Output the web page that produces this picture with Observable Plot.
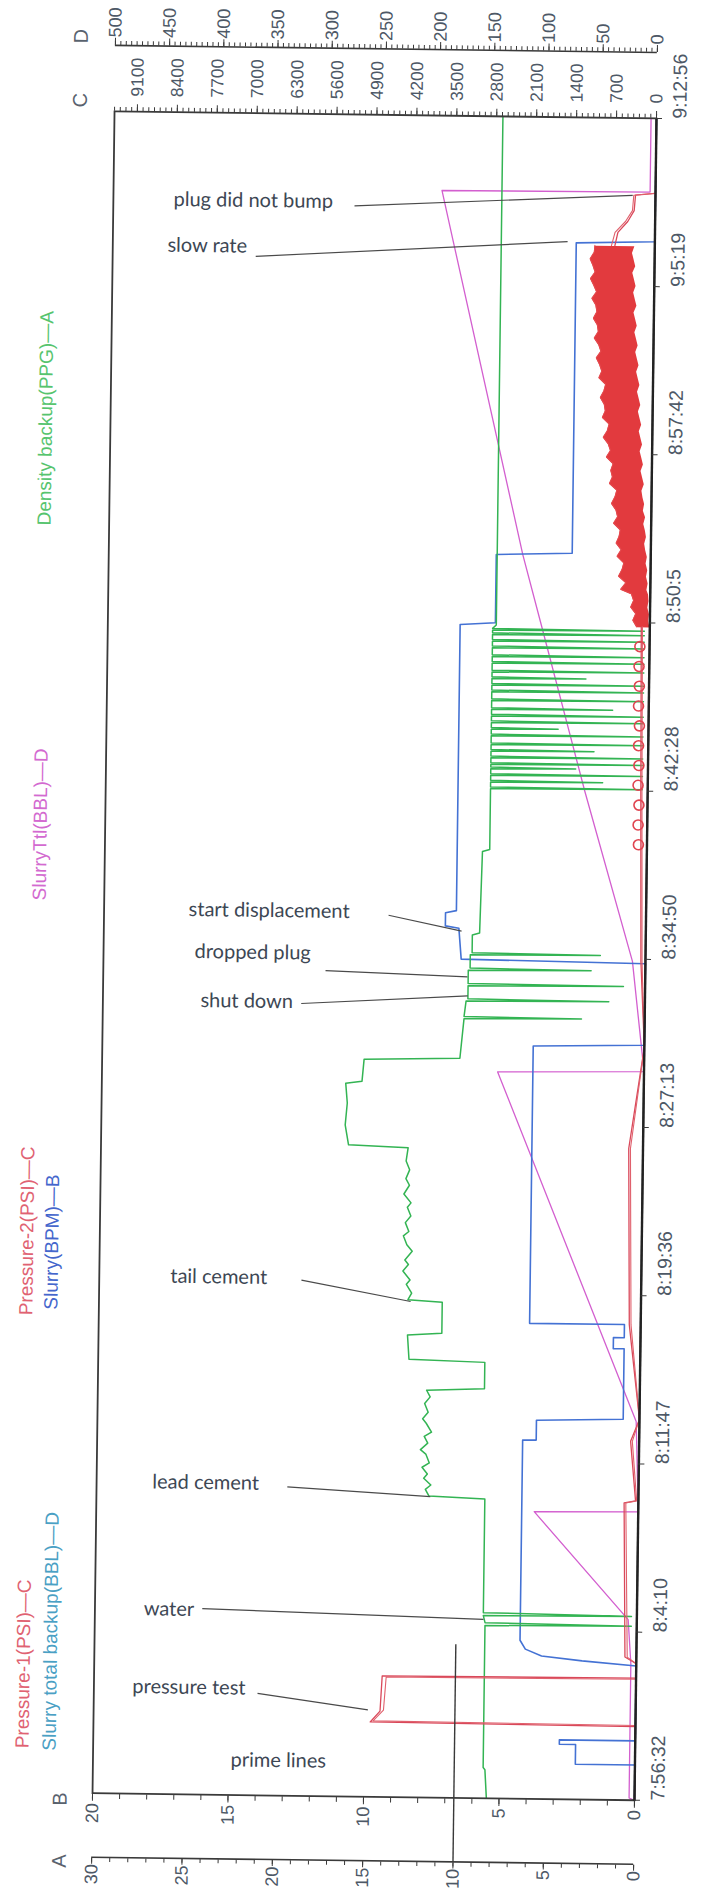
<!DOCTYPE html>
<html><head><meta charset="utf-8">
<script src="https://cdn.jsdelivr.net/npm/d3@7"></script>
<script src="https://cdn.jsdelivr.net/npm/@observablehq/plot@0.6"></script>
<style>
html,body{margin:0;padding:0;background:#fff;width:702px;height:1902px;overflow:hidden}
#page{position:absolute;left:0;top:0;width:702px;height:1902px;transform:rotate(0.75deg);transform-origin:351px 956px}
#land{position:absolute;left:0;top:0;width:1902px;height:702px;transform-origin:0 0;transform:translate(0px,1902px) rotate(-90deg)}
</style></head><body><div id="page"><div id="land"></div></div>
<script>
// ---- time axis (minutes since 7:56:32) ----
const timeLabels = ["7:56:32","8:4:10","8:11:47","8:19:36","8:27:13","8:34:50","8:42:28","8:50:5","8:57:42","9:5:19","9:12:56"];
const timeTicks = [0,7.64,15.28,22.92,30.56,38.2,45.84,53.48,61.12,68.76,76.4];
// ---- value axes ----
const aTicks = [0,5,10,15,20,25,30];           // A: Density (PPG)
const bTicks = [0,5,10,15,20];                 // B: Slurry rate (BPM)
const cTicks = [0,700,1400,2100,2800,3500,4200,4900,5600,6300,7000,7700,8400,9100]; // C: pressure (PSI)
const dTicks = [0,50,100,150,200,250,300,350,400,450,500]; // D: volume (BBL)
const aMax = 30, bMax = 20, cMax = 9500, dMax = 500;

// ---- series [minutes, value] ----
const density = [
 [0,8.2],[1.3,8.3],[1.4,8.4],[7.85,8.4],[7.9,0.3],[7.98,8.4],[8.3,8.5],[8.35,0.3],[8.43,8.5],[13.6,8.5],
 [13.7,11.6],[14.0,11.8],[14.2,11.5],[14.5,11.9],[14.7,11.7],[15.0,12.0],[15.2,11.6],[15.6,11.8],[15.8,12.1],[16.1,11.7],[16.4,11.9],[16.6,11.5],[17.0,11.8],[17.2,12.0],[17.5,11.7],[17.9,11.9],[18.2,11.6],[18.5,11.8],
 [18.6,8.6],[19.8,8.6],[19.9,12.8],[21.0,12.9],[21.1,11.0],[22.5,11.0],
 [22.6,12.9],[22.9,12.7],[23.3,13.0],[23.5,12.8],[23.9,13.2],[24.2,12.9],[24.4,13.1],[24.8,12.7],[25.1,13.0],[25.5,13.2],[25.7,12.9],[26.1,13.1],[26.4,12.8],[26.8,13.0],[27.0,12.8],[27.4,13.2],[27.8,12.9],[28.1,13.1],[28.5,12.9],[28.9,13.1],[29.5,13.0],
 [29.6,16.3],[30.5,16.5],[31.5,16.4],[32.4,16.5],[32.5,15.6],[33.5,15.5],[33.6,10.2],[35.4,10.0],
 [35.45,3.5],[35.5,10.0],[36.2,9.9],[36.25,2.0],[36.3,9.8],[36.9,9.8],[36.95,1.2],[37.0,9.8],[37.6,9.8],[37.65,3.0],[37.7,9.7],[38.3,9.7],[38.35,2.5],[38.4,9.6],[39.2,9.6],[39.3,9.2],[43.0,9.1],[43.1,8.7],[45.8,8.7]
];
const densitySpikes = [[45.9,0.3],[46.2,2.5],[46.5,0.3],[46.8,4.0],[47.0,0.3],[47.3,0.3],[47.6,3.0],[47.9,0.3],[48.3,0.3],[48.6,5.0],[48.9,0.3],[49.2,0.3],[49.5,2.0],[49.9,0.3],[50.3,0.3],[50.6,0.3],[50.9,3.5],[51.2,0.3],[51.6,0.3],[51.9,0.3],[52.3,0.3],[52.6,0.3],[52.9,0.3],[53.1,0.3]];
const densityTail = [[53.3,8.5],[76.4,8.5]];

const slurryRate = [[0,0],[1.6,0],[1.6,2.2],[2.5,2.2],[2.5,2.8],[2.7,2.8],[2.7,0],[6.1,0],[6.3,2.0],[6.5,3.5],[6.8,4.1],[7.2,4.3],[16.3,4.3],[16.3,3.8],[17.2,3.8],[17.3,0.6],[20.5,0.6],[20.5,1.0],[21.0,1.0],[21.0,0.6],[21.6,0.6],[21.6,4.1],[34.2,4.1],[34.3,0],[38.0,0],[38.1,6.8],[39.5,6.9],[39.6,7.4],[40.2,7.4],[40.3,7.0],[53.3,7.0],[53.4,5.7],[56.5,5.7],[56.6,2.9],[70.7,2.9],[70.8,0],[76.4,0]];

const slurryTtl = [[0,0],[0.1,5],[6.2,5],[8.2,8],[13.05,96],[13.1,0],[17.2,3],[33.0,135],[33.1,0],[38.1,12],[45.8,58],[53.3,100],[56.5,118],[70.7,186],[73.0,197],[73.05,5],[76.4,5]];

const pressure1 = [[0,0],[3.35,0],[3.4,4650],[3.9,4480],[5.5,4450],[5.55,0],[6.2,0],[6.5,200],[13.5,250],[13.6,50],[16.3,150],[17.3,0],[21.6,200],[29.6,250],[34.2,0],[38.1,80],[45.8,120],[53.3,150]];
const pressure2 = [[0,0],[3.4,0],[3.45,4600],[3.95,4420],[5.45,4380],[5.5,0],[6.2,0],[6.5,160],[13.5,220],[13.6,30],[16.3,120],[17.3,0],[21.6,170],[29.6,220],[34.2,0],[38.1,60],[45.8,100],[53.3,130]];
// noisy pressure band after 8:50: minutes, low edge, high edge (PSI)
const bandT  = [53.3,53.6,53.9,54.2,54.5,54.8,55.0,55.3,55.6,55.9,56.2,56.5,56.8,57.1,57.4,57.7,58.0,58.3,58.6,58.9,59.2,59.5,59.8,60.1,60.4,60.7,61.0,61.3,61.6,61.9,62.2,62.5,62.8,63.1,63.4,63.7,64.0,64.3,64.6,64.9,65.2,65.5,65.8,66.1,66.4,66.7,67.0,67.3,67.6,67.9,68.2,68.5,68.8,69.1,69.4,69.7,70.0,70.3,70.6];
const bandHi = [230,300,250,340,290,330,520,430,560,500,470,590,520,610,560,540,660,590,620,700,640,610,740,690,720,680,800,730,770,860,790,760,880,830,850,920,860,830,950,900,940,1000,920,960,1040,970,990,1060,1000,1020,1090,1010,1060,1120,1040,1080,1130,1060,1050];
const bandLo = [0,20,10,40,20,30,60,40,70,50,80,60,90,110,80,100,130,100,140,120,150,170,130,160,190,150,180,210,170,200,230,190,220,250,210,240,270,230,260,290,250,280,310,270,300,330,290,320,350,300,330,360,320,350,380,330,360,390,350];
const pressureEnd1 = [[70.6,700],[71.2,650],[71.7,480],[72.2,370],[72.9,350],[73.0,0]];
const pressureEnd2 = [[70.6,760],[71.2,700],[71.7,520],[72.2,400],[72.9,380],[73.0,0]];
const pressureLoops = [[43.4,150],[44.3,160],[45.2,150],[46.1,170],[47.0,160],[47.9,170],[48.8,160],[49.7,180],[50.6,170],[51.5,180],[52.4,170]];

// annotations: [minutes, fraction of frame height (0 = zero line), text]
const notes = [[72.43,0.889,"plug did not bump"],[70.35,0.899,"slow rate"],[40.19,0.844,"start displacement"],[38.28,0.832,"dropped plug"],[36.06,0.820,"shut down"],[23.52,0.869,"tail cement"],[14.17,0.897,"lead cement"],[8.40,0.910,"water"],[4.86,0.929,"pressure test"],[1.59,0.746,"prime lines"]];
const leaders = [[72.25,0.555,72.89,0.042],[69.9,0.736,70.75,0.161],[40.05,0.475,39.37,0.340],[37.5,0.590,37.3,0.328],[35.99,0.634,36.44,0.327],[23.43,0.627,22.52,0.425],[14.03,0.648,13.67,0.384],[8.45,0.802,8.13,0.283],[4.63,0.698,3.95,0.494]];
const cursor = [[10, -2.9, 7.0]]; // A-value, from, to (minutes)

// ---- helpers ----
const rows = (arr, max) => arr.map(([t, v]) => ({t, y: v / max}));
const spikeRows = [];
densitySpikes.forEach(([t, v]) => { spikeRows.push([t - 0.04, 8.7], [t, v], [t + 0.04, 8.7]); });
const densityAll = [...density, ...spikeRows, ...densityTail];
const band = bandT.map((t, i) => ({t, lo: bandLo[i] / cMax, hi: bandHi[i] / cMax}));

const axisFont = "'Liberation Sans', Arial, sans-serif";
const axisColor = "#4d5866";
const dark = "#3a3a3a";

const chart = Plot.plot({
  width: 1902, height: 702,
  marginLeft: 105, marginRight: 115, marginTop: 103, marginBottom: 57,
  x: {domain: [0, 76.4], axis: null},
  y: {domain: [0, 1], axis: null},
  style: {fontFamily: axisFont, background: "transparent", overflow: "visible"},
  marks: [
    // series
    Plot.line(rows(slurryTtl, dMax), {x: "t", y: "y", stroke: "#d35fcf", strokeWidth: 1.3}),
    Plot.line(rows(slurryRate, bMax), {x: "t", y: "y", stroke: "#4472d4", strokeWidth: 1.6}),
    Plot.line(rows(densityAll, aMax), {x: "t", y: "y", stroke: "#33b453", strokeWidth: 1.5}),
    Plot.areaY(band, {x: "t", y1: "lo", y2: "hi", fill: "#e23a3e"}),
    Plot.line(band, {x: "t", y: "hi", stroke: "#e54a4e", strokeWidth: 1}),
    Plot.line(rows(pressure1, cMax), {x: "t", y: "y", stroke: "#d9485a", strokeWidth: 1.3}),
    Plot.line(rows(pressure2, cMax), {x: "t", y: "y", stroke: "#e0606c", strokeWidth: 1.1}),
    Plot.line(rows(pressureEnd1, cMax), {x: "t", y: "y", stroke: "#d9485a", strokeWidth: 1.3}),
    Plot.line(rows(pressureEnd2, cMax), {x: "t", y: "y", stroke: "#e0606c", strokeWidth: 1.1}),
    Plot.dot(rows(pressureLoops, cMax), {x: "t", y: "y", r: 5, stroke: "#e04450", strokeWidth: 1.6, fill: "none"}),
    Plot.ruleY(cursor, {y: d => d[0] / aMax, x1: d => d[1], x2: d => d[2], stroke: dark, strokeWidth: 1.4}),
    // frame + axes
    Plot.frame({stroke: dark, strokeWidth: 1.8}),
    Plot.ruleY([0], {stroke: "#222", strokeWidth: 2.4}),
    Plot.axisX(timeTicks, {anchor: "bottom", tickSize: 6, tickPadding: 10, tickFormat: d => timeLabels[timeTicks.indexOf(d)], textAnchor: "start", fontSize: 19.5, color: axisColor, stroke: dark, label: null}),
    // B axis (frame left)
    Plot.axisY(d3.range(0, 21, 1).map(v => v / bMax), {anchor: "left", tickSize: 5, tickFormat: () => "", stroke: dark, label: null}),
    Plot.axisY(bTicks.map(v => v / bMax), {anchor: "left", tickSize: 7, tickPadding: 3, tickFormat: d => String(Math.round(d * bMax)), fontSize: 18, color: axisColor, stroke: dark, label: null}),
    // A axis (offset)
    Plot.ruleX([0], {y1: 0, y2: 1, dx: -64, stroke: dark, strokeWidth: 1.6}),
    Plot.axisY(d3.range(0, 31, 1).map(v => v / aMax), {anchor: "left", dx: -64, tickSize: 4, tickFormat: () => "", stroke: dark, label: null}),
    Plot.axisY(aTicks.map(v => v / aMax), {anchor: "left", dx: -64, tickSize: 6, tickPadding: 1, tickFormat: d => String(Math.round(d * aMax)), fontSize: 18, color: axisColor, stroke: dark, label: null}),
    // C axis (frame right)
    Plot.axisY(d3.range(0, 9501, 100).map(v => v / cMax), {anchor: "right", tickSize: 4, tickFormat: () => "", stroke: dark, label: null}),
    Plot.axisY(cTicks.map(v => v / cMax), {anchor: "right", tickSize: 7, tickPadding: 8, tickFormat: d => String(Math.round(d * cMax)), fontSize: 17.5, color: axisColor, stroke: dark, label: null}),
    // D axis (offset)
    Plot.ruleX([76.4], {y1: 0, y2: 1, dx: 66, stroke: dark, strokeWidth: 1.6}),
    Plot.axisY(d3.range(0, 501, 5).map(v => v / dMax), {anchor: "right", dx: 66, tickSize: 4, tickFormat: () => "", stroke: dark, label: null}),
    Plot.axisY(dTicks.map(v => v / dMax), {anchor: "right", dx: 66, tickSize: 7, tickPadding: 1, tickFormat: d => String(Math.round(d * dMax)), fontSize: 18, color: axisColor, stroke: dark, label: null}),
    // axis letters
    Plot.text(["A"], {frameAnchor: "top-left", dx: -75, dy: -40, fontSize: 20, fill: "#59626e"}),
    Plot.text(["B"], {frameAnchor: "top-left", dx: -13, dy: -40, fontSize: 20, fill: "#59626e"}),
    Plot.text(["C"], {frameAnchor: "top-right", dx: 18, dy: -42, fontSize: 20, fill: "#59626e"}),
    Plot.text(["D"], {frameAnchor: "top-right", dx: 82, dy: -42, fontSize: 20, fill: "#59626e"}),
    // legend
    Plot.text(["Pressure-1(PSI)—C"], {frameAnchor: "top-left", dx: 44, dy: -78, textAnchor: "start", fontSize: 19, fill: "#e06272"}),
    Plot.text(["Slurry total backup(BBL)—D"], {frameAnchor: "top-left", dx: 42, dy: -51, textAnchor: "start", fontSize: 19, fill: "#4aa0c4"}),
    Plot.text(["Pressure-2(PSI)—C"], {frameAnchor: "top-left", dx: 477, dy: -80, textAnchor: "start", fontSize: 19, fill: "#e06272"}),
    Plot.text(["Slurry(BPM)—B"], {frameAnchor: "top-left", dx: 483, dy: -55, textAnchor: "start", fontSize: 19, fill: "#4466cc"}),
    Plot.text(["SlurryTtl(BBL)—D"], {frameAnchor: "top-left", dx: 892, dy: -72, textAnchor: "start", fontSize: 19, fill: "#d36ad0"}),
    Plot.text(["Density backup(PPG)—A"], {frameAnchor: "top-left", dx: 1267, dy: -72, textAnchor: "start", fontSize: 19, fill: "#56c46e"}),
    // annotations
    Plot.link(leaders, {x1: d => d[0], y1: d => d[1], x2: d => d[2], y2: d => d[3], stroke: "#4a4a4a", strokeWidth: 1.2}),
    Plot.text(notes, {x: d => d[0], y: d => d[1], text: d => d[2], rotate: 90, textAnchor: "start", fontFamily: "Lato, 'Open Sans', sans-serif", fontSize: 20, fill: "#3d4754"})
  ]
});
document.getElementById("land").appendChild(chart);
</script></body></html>
